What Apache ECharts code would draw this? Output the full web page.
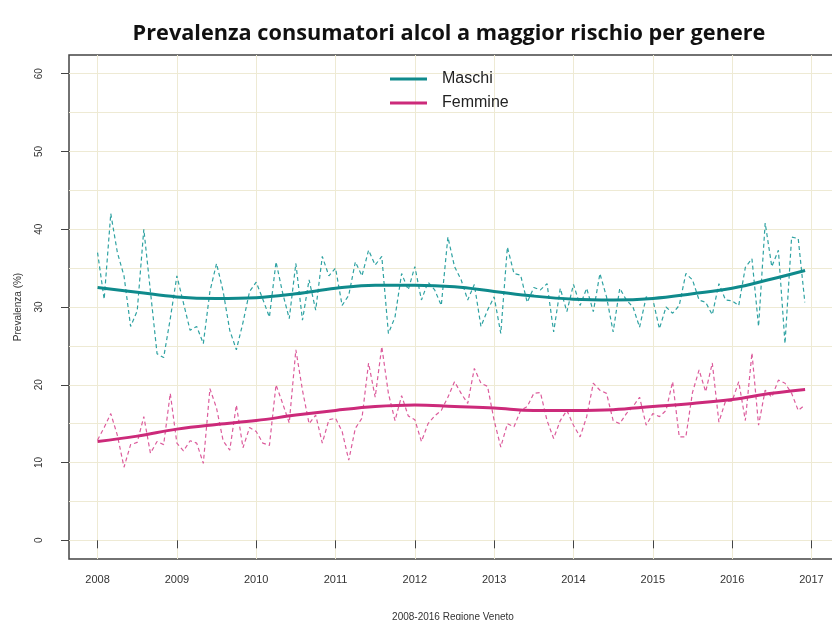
<!DOCTYPE html>
<html>
<head>
<meta charset="utf-8">
<script src="https://cdn.jsdelivr.net/npm/echarts@6/dist/echarts.min.js"></script>
<style>
    html, body { margin: 0; padding: 0; background: #fff; }
    #chart { width: 832px; height: 620px; }
</style>
</head>
<body>
<div id="chart"></div>
<script>
    // monthly values, Jan 2008 .. Dec 2016
    var startYear = 2008;
    var maschi = [37, 31, 42, 37, 34, 27.5, 29.5, 40, 32, 24, 23.5, 28.5,
        34, 30.5, 27, 27.5, 25.3, 32, 35.6, 32, 27, 24.5, 28, 32,
        33.2, 31, 28.7, 35.8, 31.8, 28.5, 35.6, 28.3, 33.5, 29.6, 36.5, 34,
        35, 30.2, 31.5, 35.8, 34, 37.3, 35.4, 36.5, 26.6, 28.7, 34.3, 32.2,
        35.2, 30.9, 33.2, 32.2, 30.2, 39, 35.2, 33.5, 30.9, 32.9, 27.5, 29.6,
        31.3, 26.6, 37.7, 34.3, 34.1, 30.6, 32.5, 32.2, 33, 26.8, 32.4, 29.4,
        32.9, 30.2, 32.4, 29.4, 34.3, 31.3, 26.8, 32.4, 30.9, 30, 27.4, 31.3,
        31, 27.2, 30, 29.2, 30.2, 34.3, 33.5, 30.9, 30.6, 29, 33, 30.9,
        30.8, 30.2, 35.1, 36.2, 27.5, 40.8, 35.2, 37.3, 25.3, 39, 38.8, 30.6];
    var femmine = [12.9, 14.5, 16.3, 13.5, 9.4, 12.3, 12.6, 15.9, 11.2, 12.7, 12.3, 18.9,
        12.5, 11.5, 12.8, 12.5, 9.9, 19.5, 17, 12.8, 11.6, 17.4, 11.9, 14.5,
        14, 12.5, 12.2, 20, 17.6, 15.1, 24.5, 19.3, 15, 16.1, 12.5, 15.5,
        15.7, 14, 10.3, 14.4, 15.7, 22.8, 18.4, 24.9, 18.9, 15.4, 18.6, 16,
        15.5, 12.7, 15, 16, 16.7, 18.4, 20.4, 18.9, 17.6, 22.1, 20.2, 19.8,
        15.4, 12, 15, 14.6, 16.7, 17.2, 18.9, 19, 15.4, 13.1, 15.4, 16.7,
        14.8, 13.3, 15.9, 20.2, 19.3, 18.9, 15.4, 15, 16.3, 17.2, 18.4, 14.8,
        16.3, 15.9, 16.7, 20.4, 13.3, 13.3, 19, 21.9, 19.1, 22.8, 15.2, 17.9,
        17.9, 20.4, 15.4, 24.1, 14.8, 19.3, 18.4, 20.6, 20.2, 18.9, 16.7, 17.4];

    // smoothed trend, read every half year
    var trendYears = [2008, 2008.5, 2009, 2009.5, 2010, 2010.5, 2011, 2011.5, 2012, 2012.5,
        2013, 2013.5, 2014, 2014.5, 2015, 2015.5, 2016, 2016.5, 2016.92];
    var maschiTrend = [32.5, 31.9, 31.3, 31.1, 31.2, 31.7, 32.4, 32.8, 32.8, 32.6,
        32.0, 31.4, 31.0, 30.9, 31.1, 31.7, 32.4, 33.6, 34.7];
    var femmineTrend = [12.7, 13.4, 14.3, 14.9, 15.4, 16.1, 16.7, 17.2, 17.4, 17.2,
        17.0, 16.7, 16.7, 16.8, 17.2, 17.6, 18.1, 18.9, 19.4];

    var yearTicks = [2008, 2009, 2010, 2011, 2012, 2013, 2014, 2015, 2016, 2017];
    var yTicks = [0, 10, 20, 30, 40, 50, 60];
    var yGrid = [0, 5, 10, 15, 20, 25, 30, 35, 40, 45, 50, 55, 60];

    function monthly(arr) {
        return arr.map(function (v, i) { return [startYear + i / 12, v]; });
    }
    function trend(arr) {
        return arr.map(function (v, i) { return [trendYears[i], v]; });
    }

    var chart = echarts.init(document.getElementById('chart'));
    var option = {
        animation: false,
        title: [{
            text: 'Prevalenza consumatori alcol a maggior rischio per genere',
            left: 444,
            top: 18,
            textAlign: 'center',
            textStyle: {fontFamily: 'Open Sans', fontWeight: 'bold', fontSize: 21.7, color: '#111'}
        }, {
            text: '2008-2016 Regione Veneto',
            left: 448,
            top: 607,
            textAlign: 'center',
            textStyle: {fontFamily: 'Liberation Sans', fontWeight: 'normal', fontSize: 10, color: '#333'}
        }],
        legend: {
            data: ['Maschi', 'Femmine'],
            orient: 'vertical',
            left: 385,
            top: 66,
            icon: 'rect',
            itemWidth: 37,
            itemHeight: 3,
            itemGap: 8,
            textStyle: {fontFamily: 'Liberation Sans', fontSize: 16, color: '#222', padding: [0, 0, 0, 10]}
        },
        grid: {
            left: 69,
            top: 55,
            right: -8,
            height: 504,
            outerBoundsMode: 'none',
            show: true,
            borderColor: '#444',
            borderWidth: 1.5,
            backgroundColor: 'transparent'
        },
        xAxis: {
            type: 'value',
            min: 2007.64,
            max: 2017.36,
            axisLine: {show: false},
            axisTick: {show: true, customValues: yearTicks, length: 8, lineStyle: {color: '#444'}},
            axisLabel: {
                customValues: yearTicks, margin: 15, fontSize: 11, color: '#333', fontFamily: 'Liberation Sans',
                formatter: function (v) { return String(v); }
            },
            splitLine: {show: true, lineStyle: {color: '#eeead4', width: 1}}
        },
        yAxis: [{
            type: 'value',
            min: -2.4,
            max: 62.4,
            position: 'left',
            name: 'Prevalenza (%)',
            nameLocation: 'middle',
            nameRotate: 90,
            nameGap: 46,
            nameTextStyle: {fontSize: 10, color: '#333', fontFamily: 'Liberation Sans'},
            axisLine: {show: false},
            axisTick: {show: true, customValues: yTicks, length: 8, lineStyle: {color: '#444'}},
            axisLabel: {customValues: yTicks, rotate: 90, margin: 25, fontSize: 10, color: '#333', fontFamily: 'Liberation Sans'},
            splitLine: {show: false}
        }, {
            type: 'value',
            min: -2.4,
            max: 62.4,
            position: 'left',
            axisLine: {show: false},
            axisTick: {show: false, customValues: yGrid},
            axisLabel: {show: false, customValues: yGrid},
            splitLine: {show: true, lineStyle: {color: '#eeead4', width: 1}}
        }],
        series: [{
            name: 'Maschi mensile',
            type: 'line',
            data: monthly(maschi),
            showSymbol: false,
            lineStyle: {color: '#2ea2a2', width: 1.2, type: [4, 3]},
            itemStyle: {color: '#2ea2a2'},
            z: 2
        }, {
            name: 'Femmine mensile',
            type: 'line',
            data: monthly(femmine),
            showSymbol: false,
            lineStyle: {color: '#dc5c9c', width: 1.2, type: [4, 3]},
            itemStyle: {color: '#dc5c9c'},
            z: 2
        }, {
            name: 'Maschi',
            type: 'line',
            data: trend(maschiTrend),
            smooth: 0.4,
            showSymbol: false,
            lineStyle: {color: '#0f8a8c', width: 3},
            itemStyle: {color: '#0f8a8c'},
            z: 3
        }, {
            name: 'Femmine',
            type: 'line',
            data: trend(femmineTrend),
            smooth: 0.4,
            showSymbol: false,
            lineStyle: {color: '#cc2a7a', width: 3},
            itemStyle: {color: '#cc2a7a'},
            z: 3
        }]
    };
    chart.setOption(option);
</script>
</body>
</html>
